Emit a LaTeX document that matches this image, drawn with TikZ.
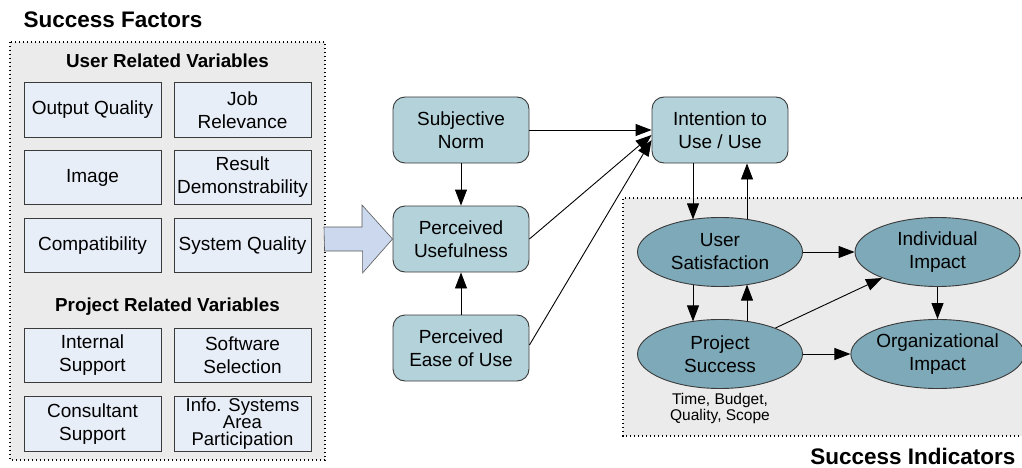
\documentclass[tikz,border=0pt]{standalone}
\usepackage{fontspec}
\setmainfont{Liberation Sans}
\usetikzlibrary{arrows.meta,shapes.geometric,calc}
\definecolor{panelgray}{HTML}{EBEBEB}
\definecolor{factorfill}{HTML}{E8EEF8}
\definecolor{tamfill}{HTML}{B4D2DA}
\definecolor{indfill}{HTML}{7DA9B8}
\definecolor{blockarrow}{HTML}{CBD8EE}
\definecolor{edgegray}{HTML}{3A3A3A}
\begin{document}
\begin{tikzpicture}[x=1pt,y=-1pt,
  font=\fontsize{19}{23}\selectfont,
  panel/.style={fill=panelgray},
  dotline/.style={line width=1.3pt,dash pattern=on 1.2pt off 2.8pt},
  factor/.style={draw=edgegray,line width=0.8pt,fill=factorfill,minimum width=137pt,minimum height=54.5pt,inner sep=0pt,align=center},
  tam/.style={draw=edgegray,line width=0.9pt,fill=tamfill,rounded corners=12pt,minimum width=136pt,minimum height=66pt,inner sep=0pt,align=center},
  indicator/.style={ellipse,draw=edgegray,line width=0.9pt,fill=indfill,minimum width=165pt,minimum height=69pt,inner sep=0pt,align=center},
  heading/.style={font=\fontsize{18.8}{22}\selectfont\bfseries},
  title/.style={font=\fontsize{22.5}{26}\selectfont\bfseries},
  arr/.style={line width=0.9pt,-{Triangle[length=16pt,width=12pt]}}
]
\useasboundingbox (0,0) rectangle (1022,468);

% Success factors panel
\fill[panel] (10,42) rectangle (325,460);
\draw[dotline] (10,42) rectangle (325,460);
\node[title,anchor=west] (sftitle) at (20,20) {Success Factors};
\node[heading] (userhead) at (167.5,61) {User Related Variables};
\node[heading] (projhead) at (167.5,307) {Project Related Variables};

\node[factor] (oq) at (92.5,110) {Output Quality};
\node[factor] (jr) at (242.5,110) {Job\\Relevance};
\node[factor] (im) at (92.5,177.5) {Image};
\node[factor] (rd) at (242.5,177.5) {Result\\Demonstrability};
\node[factor] (co) at (92.5,245.5) {Compatibility};
\node[factor] (sq) at (242.5,245.5) {System Quality};
\node[factor] (is) at (92.5,355.5) {Internal\\Support};
\node[factor] (ss) at (242.5,355.5) {Software\\Selection};
\node[factor] (cs) at (92.5,424) {Consultant\\Support};
\node[factor,font=\fontsize{18.5}{17}\selectfont] (ia) at (242.5,424) {Info. Systems\\Area\\Participation};

% Success indicators panel (open to the right)
\fill[panel] (623,198) rectangle (1022,436);
\draw[dotline] (1022,198) -- (623,198) -- (623,436) -- (1022,436);
\node[title,anchor=east] (sititle) at (1019,456) {Success Indicators};

% Technology acceptance nodes
\node[tam] (sn) at (461,130) {Subjective\\Norm};
\node[tam] (pu) at (461,239) {Perceived\\Usefulness};
\node[tam] (pe) at (461,348) {Perceived\\Ease of Use};
\node[tam] (int) at (720,130) {Intention to\\Use / Use};

% Indicator ellipses
\node[indicator] (us) at (720,252) {User\\Satisfaction};
\node[indicator] (ii) at (937.5,252) {Individual\\Impact};
\node[indicator] (ps) at (720,354) {Project\\Success};
\node[indicator] (oi) at (937.5,354) {Organizational\\Impact};
\node[font=\fontsize{15.5}{15.5}\selectfont,align=center] (psnote) at (720,408.5) {Time, Budget,\\Quality, Scope};

% Block arrow from the factors into the model
\coordinate (ba) at (324,239);
\draw[draw=gray!70!black,line width=0.6pt,fill=blockarrow]
  (ba) ++(0,-12) -- ++(38,0) -- ++(0,-22) -- (pu.west) -- ++(-30,34) -- ++(0,-22) -- ++(-38,0) -- cycle;

% Connectors
\draw[arr] (sn.east) -- (int.west);
\draw[arr] (pu.east) -- ($(int.west)+(0,5)$);
\draw[arr] ($(pe.east)+(0,-3)$) -- ($(int.west)+(0,10)$);
\draw[arr] (sn.south) -- (pu.north);
\draw[arr] (pe.north) -- (pu.south);

\draw[arr] ($(int.south)+(-27,0)$) -- ($(us.center)+(-27,-32.6)$);
\draw[arr] ($(us.center)+(27,-32.6)$) -- ($(int.south)+(27,0)$);
\draw[arr] ($(us.center)+(-27,32.6)$) -- ($(ps.center)+(-27,-32.6)$);
\draw[arr] ($(ps.center)+(27,-32.6)$) -- ($(us.center)+(27,32.6)$);
\draw[arr] (us.east) -- (ii.west);
\draw[arr] (ps.east) -- (oi.west);
\draw[arr] (ii.south) -- (oi.north);
\draw[arr] (ps) -- (ii);
\end{tikzpicture}
\end{document}
